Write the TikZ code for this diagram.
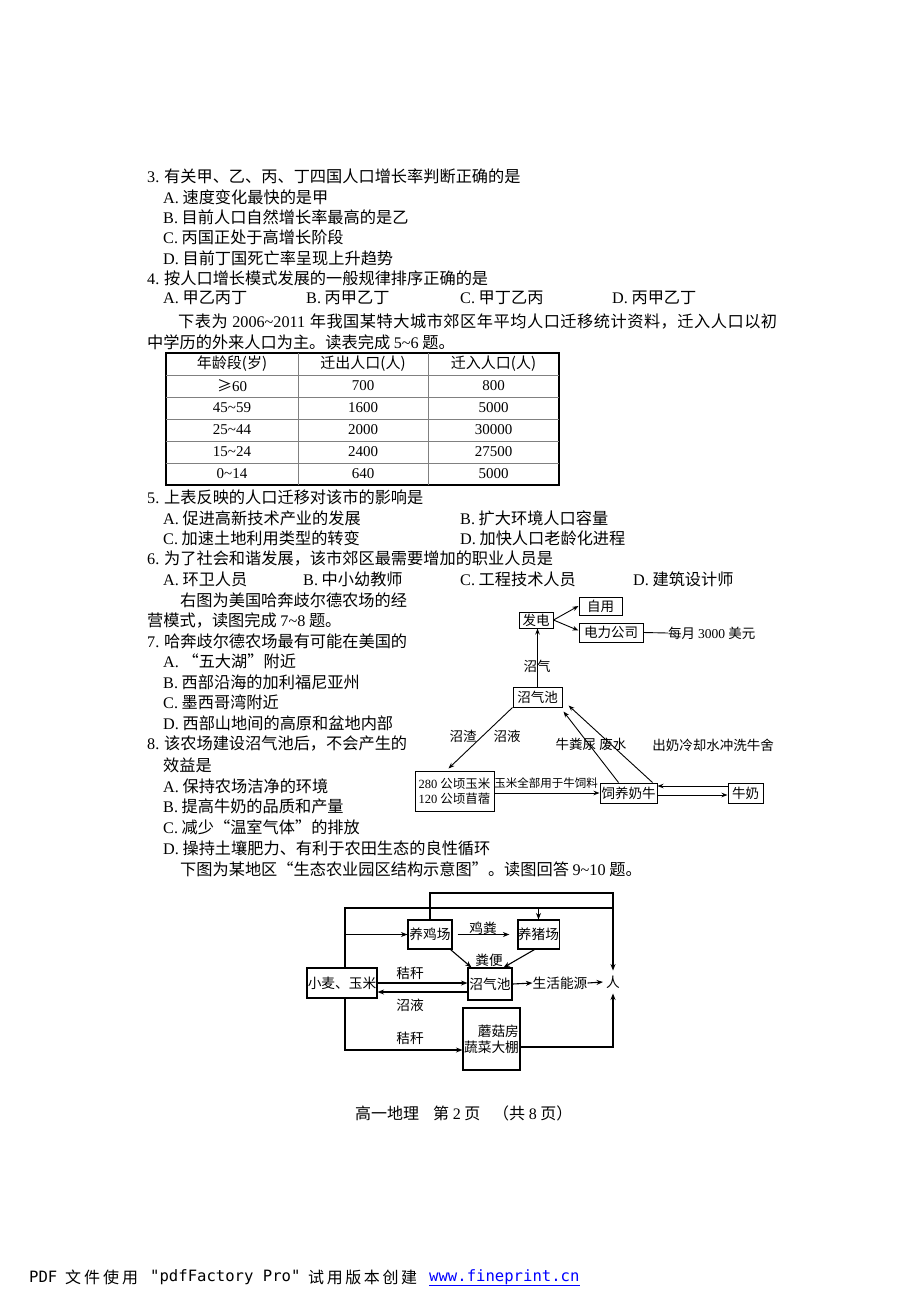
\documentclass[tikz,border=0pt]{standalone}
\usepackage{fontspec}
\setmainfont{Noto Sans CJK SC}
\newfontfamily\tmfont{Liberation Serif}
\newfontfamily\mofont{DejaVu Sans Mono}
\newcommand\tn[1]{{\tmfont #1}}
\usetikzlibrary{arrows.meta}
\let\endsprd\relax
\def\sprd#1{#1\sprdnext}
\def\sprdnext#1{\ifx#1\endsprd\else\hskip0pt plus 1fil\relax#1\expandafter\sprdnext\fi}
\begin{document}
\begin{tikzpicture}[x=1pt,y=-1pt,
  ln/.style={anchor=west,inner sep=0pt,font=\fontsize{16.2}{19}\selectfont},
  cell/.style={inner sep=0pt,font=\fontsize{15}{17}\selectfont},
  fbox/.style={draw,line width=1pt,inner sep=0pt,font=\fontsize{13.5}{15}\selectfont},
  flab/.style={inner sep=0pt,font=\fontsize{13.5}{15}\selectfont},
  ebox/.style={draw,line width=1.1pt,inner sep=0pt,font=\fontsize{13.7}{16}\selectfont},
  elab/.style={inner sep=0pt,font=\fontsize{13.7}{16}\selectfont},
  arr/.style={-{Stealth[length=6pt,width=4.5pt]},line width=0.9pt},
  earr/.style={-{Stealth[length=6.5pt,width=5pt]},line width=1.1pt},
  foot/.style={anchor=west,inner sep=0pt,font=\fontsize{16}{18}\selectfont},
  mono/.style={anchor=west,inner sep=0pt,font=\mofont\fontsize{15.6}{18}\selectfont},
]
\fill[white] (0,0) rectangle (920,1302);
\useasboundingbox (0,0) rectangle (920,1302);

% ---------- questions 3-4 ----------
\node[ln] (q3)  at (147,176) {\tn{3.} 有关甲、乙、丙、丁四国人口增长率判断正确的是};
\node[ln] (q3a) at (163,197) {\tn{A.} 速度变化最快的是甲};
\node[ln] (q3b) at (163,217) {\tn{B.} 目前人口自然增长率最高的是乙};
\node[ln] (q3c) at (163,237) {\tn{C.} 丙国正处于高增长阶段};
\node[ln] (q3d) at (163,258) {\tn{D.} 目前丁国死亡率呈现上升趋势};
\node[ln] (q4)  at (147,278) {\tn{4.} 按人口增长模式发展的一般规律排序正确的是};
\node[ln] (q4a) at (163,298) {\tn{A.} 甲乙丙丁};
\node[ln] (q4b) at (306,298) {\tn{B.} 丙甲乙丁};
\node[ln] (q4c) at (460,298) {\tn{C.} 甲丁乙丙};
\node[ln] (q4d) at (612,298) {\tn{D.} 丙甲乙丁};
\node[ln] (p1a) at (178,321) {\makebox[599pt][s]{\sprd 下表为\endsprd\hskip4pt plus 1fil\relax\tn{2006\textasciitilde 2011}\hskip4pt plus 1fil\relax\sprd 年我国某特大城市郊区年平均人口迁移统计资料，迁入人口以初\endsprd}};
\node[ln] (p1b) at (147,342) {中学历的外来人口为主。读表完成 \tn{5\textasciitilde 6} 题。};

% ---------- table ----------
\draw[line width=1.6pt] (166,353) rectangle (559,485);
\foreach \yy in {375,397,419,441,463} \draw[line width=0.5pt,gray] (166,\yy) -- (559,\yy);
\foreach \xx in {298,428} \draw[line width=0.5pt,gray] (\xx,353) -- (\xx,485);
\node[cell] (h1) at (232,364) {年龄段(岁)};
\node[cell] (h2) at (363,364) {迁出人口(人)};
\node[cell] (h3) at (493.5,364) {迁入人口(人)};
\node[cell] (r1a) at (232,386) {≥\tn{60}};
\node[cell] (r1b) at (363,386) {\tn{700}};
\node[cell] (r1c) at (493.5,386) {\tn{800}};
\node[cell] (r2a) at (232,408) {\tn{45\textasciitilde 59}};
\node[cell] (r2b) at (363,408) {\tn{1600}};
\node[cell] (r2c) at (493.5,408) {\tn{5000}};
\node[cell] (r3a) at (232,430) {\tn{25\textasciitilde 44}};
\node[cell] (r3b) at (363,430) {\tn{2000}};
\node[cell] (r3c) at (493.5,430) {\tn{30000}};
\node[cell] (r4a) at (232,452) {\tn{15\textasciitilde 24}};
\node[cell] (r4b) at (363,452) {\tn{2400}};
\node[cell] (r4c) at (493.5,452) {\tn{27500}};
\node[cell] (r5a) at (232,474) {\tn{0\textasciitilde 14}};
\node[cell] (r5b) at (363,474) {\tn{640}};
\node[cell] (r5c) at (493.5,474) {\tn{5000}};

% ---------- questions 5-6 ----------
\node[ln] (q5)  at (147,497) {\tn{5.} 上表反映的人口迁移对该市的影响是};
\node[ln] (q5a) at (163,518) {\tn{A.} 促进高新技术产业的发展};
\node[ln] (q5b) at (460,518) {\tn{B.} 扩大环境人口容量};
\node[ln] (q5c) at (163,538) {\tn{C.} 加速土地利用类型的转变};
\node[ln] (q5d) at (460,538) {\tn{D.} 加快人口老龄化进程};
\node[ln] (q6)  at (147,558) {\tn{6.} 为了社会和谐发展，该市郊区最需要增加的职业人员是};
\node[ln] (q6a) at (163,579) {\tn{A.} 环卫人员};
\node[ln] (q6b) at (303,579) {\tn{B.} 中小幼教师};
\node[ln] (q6c) at (460,579) {\tn{C.} 工程技术人员};
\node[ln] (q6d) at (633,579) {\tn{D.} 建筑设计师};

% ---------- questions 7-8 ----------
\node[ln] (p2a) at (180,600) {右图为美国哈奔歧尔德农场的经};
\node[ln] (p2b) at (147,620) {营模式，读图完成 \tn{7\textasciitilde 8} 题。};
\node[ln] (q7)  at (147,641) {\tn{7.} 哈奔歧尔德农场最有可能在美国的};
\node[ln] (q7a) at (163,661) {\tn{A.} “五大湖”附近};
\node[ln] (q7b) at (163,682) {\tn{B.} 西部沿海的加利福尼亚州};
\node[ln] (q7c) at (163,702) {\tn{C.} 墨西哥湾附近};
\node[ln] (q7d) at (163,723) {\tn{D.} 西部山地间的高原和盆地内部};
\node[ln] (q8)  at (147,744) {\tn{8.} 该农场建设沼气池后，不会产生的};
\node[ln] (q8x) at (163,765) {效益是};
\node[ln] (q8a) at (163,786) {\tn{A.} 保持农场洁净的环境};
\node[ln] (q8b) at (163,806) {\tn{B.} 提高牛奶的品质和产量};
\node[ln] (q8c) at (163,827) {\tn{C.} 减少“温室气体”的排放};
\node[ln] (q8d) at (163,848) {\tn{D.} 操持土壤肥力、有利于农田生态的良性循环};
\node[ln] (p3)  at (180,869) {下图为某地区“生态农业园区结构示意图”。读图回答 \tn{9\textasciitilde 10} 题。};

% ---------- farm diagram ----------
\node[fbox,minimum width=34pt,minimum height=16pt] (fadian) at (536,620) {发电};
\node[fbox,minimum width=43pt,minimum height=18pt] (ziyong) at (600.5,606) {自用};
\node[fbox,minimum width=64pt,minimum height=19pt] (dianli) at (611,632.5) {电力公司};
\node[flab,anchor=west] (money) at (668,633) {每月 \tn{3000} 美元};
\node[fbox,minimum width=49pt,minimum height=20pt] (zqc) at (537.5,697) {沼气池};
\node[fbox,minimum width=79pt,minimum height=40pt,align=center,font=\fontsize{12.5}{15}\selectfont] (land) at (454.5,791) {\tn{280} 公顷玉米\\\tn{120} 公顷苜蓿};
\node[fbox,minimum width=57pt,minimum height=20pt] (cow) at (628.5,793) {饲养奶牛};
\node[fbox,minimum width=35pt,minimum height=20pt] (milk) at (745.5,793) {牛奶};
\node[flab] (lzq) at (537,666) {沼气};
\node[flab] (lzz) at (463,736) {沼渣};
\node[flab] (lzy) at (507,736) {沼液};
\node[flab] (lnf) at (591,744) {牛粪尿 废水};
\node[flab] (lcn) at (713,745) {出奶冷却水冲洗牛舍};
\node[flab,font=\fontsize{11.5}{13}\selectfont] (lym) at (546,783) {玉米全部用于牛饲料};

\draw[arr] (fadian.east) -- (ziyong.west);
\draw[arr] (fadian.east) -- ([shift={(0,-2)}]dianli.west);
\draw[line width=0.9pt] (dianli.east) -- (money.west);
\draw[arr] (zqc.north) -- (zqc.north |- fadian.south);
\draw[arr] (zqc.south west) -- ([shift={(-6,-2)}]land.north);
\draw[arr] ([shift={(-10,0)}]cow.north) -- ([shift={(1,4)}]zqc.south east);
\draw[arr] ([shift={(24,0)}]cow.north) -- ([shift={(6,-2)}]zqc.south east);
\draw[arr] (land.east |- cow.west) -- (cow.west);
\draw[arr] ([shift={(0,-7)}]milk.west) -- ([shift={(0,-7)}]milk.west -| cow.east);
\draw[arr] ([shift={(0,2)}]cow.east) -- ([shift={(0,2)}]cow.east -| milk.west);

% ---------- eco-agriculture diagram ----------
\node[ebox,minimum width=44pt,minimum height=29pt] (jichang) at (430,934.5) {养鸡场};
\node[ebox,minimum width=41pt,minimum height=29pt] (zhuchang) at (538.5,934.5) {养猪场};
\node[ebox,minimum width=70pt,minimum height=30pt] (maimi) at (342,983) {小麦、玉米};
\node[ebox,minimum width=44pt,minimum height=32pt] (zqc2) at (490,984) {沼气池};
\node[ebox,minimum width=57pt,minimum height=62pt,align=right] (mogu) at (491.5,1039) {蘑菇房\\蔬菜大棚};
\node[elab] (shenghuo) at (560,983) {生活能源};
\node[elab,inner xsep=3pt,inner ysep=5pt] (ren) at (613,982) {人};
\node[elab] (ljf) at (483,928) {鸡粪};
\node[elab] (lfb) at (489,960) {粪便};
\node[elab] (ljg1) at (410,973) {秸秆};
\node[elab] (lzy2) at (410,1005) {沼液};
\node[elab] (ljg2) at (410,1038) {秸秆};
\coordinate (ltop) at (345,908);
\coordinate (rtop) at (613,908);
\coordinate (lbot) at (345,1050);
\coordinate (t1) at (430,893);

\draw[earr] (jichang.north) -- (t1) -| (ren.north);
\draw[line width=1.1pt] ([shift={(3,0)}]maimi.north) -- (ltop) -- (rtop);
\draw[earr] (zhuchang.north |- ltop) -- (zhuchang.north);
\draw[earr] (ltop |- jichang.west) -- (jichang.west);
\draw[earr] ([shift={(5,0)}]jichang.east) -- ([shift={(-8,0)}]zhuchang.west);
\draw[earr] ([shift={(-2,0)}]jichang.south east) -- ([shift={(4,0)}]zqc2.north west);
\draw[earr] ([shift={(-4,0)}]zhuchang.south) -- ([shift={(-9,0)}]zqc2.north east);
\draw[earr] (maimi.east) -- (maimi.east -| zqc2.west);
\draw[earr] ([shift={(0,8)}]zqc2.west) -- ([shift={(0,8)}]zqc2.west -| maimi.east);
\draw[earr] (zqc2.east) -- (shenghuo.west);
\draw[earr] (shenghuo.east) -- (ren.west);
\draw[earr] ([shift={(3,0)}]maimi.south) -- (lbot) -- (lbot -| mogu.west);
\draw[earr] ([shift={(0,8)}]mogu.east) -| (ren.south);

% ---------- page footer ----------
\node[foot] (f1) at (355,1113) {高一地理};
\node[foot] (f2) at (433,1113) {第 \tn{2} 页};
\node[foot] (f3) at (493,1113) {（共 \tn{8} 页）};

% ---------- pdfFactory line ----------
\node[mono] (pf1) at (29,1277) {PDF};
\node[foot] (pf2) at (65,1277) {\makebox[73pt][s]{\sprd 文件使用\endsprd}};
\node[mono] (pf3) at (150,1277) {"pdfFactory Pro"};
\node[foot] (pf4) at (308,1277) {\makebox[109pt][s]{\sprd 试用版本创建\endsprd}};
\node[mono,text=blue] (url) at (429,1277) {www.fineprint.cn};
\draw[blue,line width=0.8pt] ([shift={(0,1)}]url.south west) -- ([shift={(0,1)}]url.south east);
\end{tikzpicture}
\end{document}
